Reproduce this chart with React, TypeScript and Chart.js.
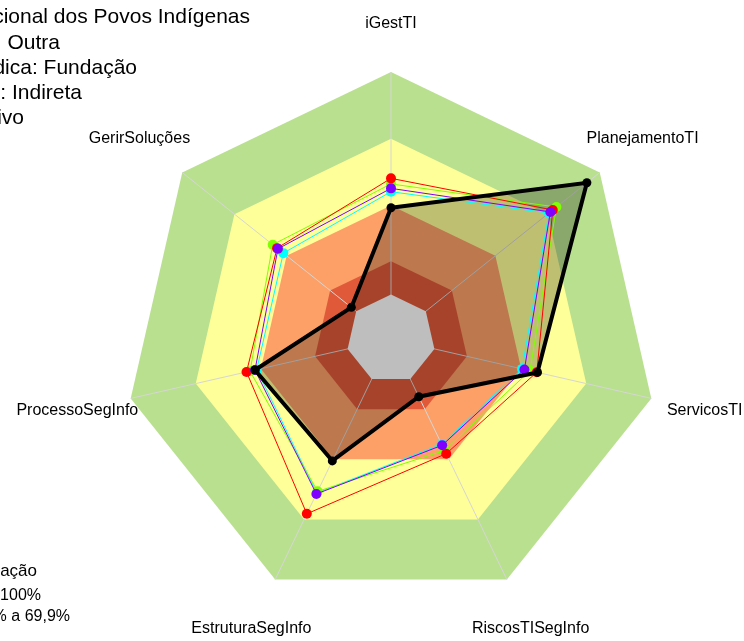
import React, { useEffect, useRef } from "react";
import { Chart, registerables } from "chart.js";

Chart.register(...registerables);

// ---- data ----
const AXES = [
  "iGestTI",
  "PlanejamentoTI",
  "ServicosTI",
  "RiscosTISegInfo",
  "EstruturaSegInfo",
  "ProcessoSegInfo",
  "GerirSoluções",
];
const ORGAO = [39, 92.6, 47.5, 8.8, 40.8, 42.7, 2.8];
const SERIE_VERMELHA = [52.2, 73, 47.2, 37.2, 67.2, 46.6, 45.5];
const SERIE_VERDE = [49.7, 75.1, 44.1, 35.6, 56, 45, 48];
const SERIE_ROXA = [47.7, 71.6, 41.5, 33, 57.3, 42.7, 45];
const SERIE_CIANO = [46.2, 70.8, 40.4, 32.5, 56.8, 41.9, 41.9];

const BAND_LIMITS = [100, 70, 40, 15];
const CENTER_LIMIT = 0;
const SCALE_MIN = -20;
const SCALE_MAX = 100;

const TITLE_LINES = [
  "Órgão: Fundação Nacional dos Povos Indígenas",
  "Categoria: Outra",
  "Natureza Jurídica: Fundação",
  "Administração: Indireta",
  "Poder: Executivo",
];
const LEGEND_LINES = ["Classificação", "70% a 100%", "40% a 69,9%"];

// ---- styles ----
const BAND_COLORS = ["#B9E08F", "#FFFF99", "#FCA068", "#E05A3A"];
const CENTER_COLOR = "#BEBEBE";
const FONT = "'Liberation Sans', Arial, sans-serif";

function polygon(ctx: CanvasRenderingContext2D, scale: any, n: number, dist: number) {
  ctx.beginPath();
  for (let i = 0; i < n; i++) {
    const p = scale.getPointPosition(i, dist);
    if (i === 0) ctx.moveTo(p.x, p.y);
    else ctx.lineTo(p.x, p.y);
  }
  ctx.closePath();
}

const bandsPlugin = {
  id: "bands",
  beforeDraw(chart: any) {
    const scale = chart.scales.r;
    const ctx = chart.ctx as CanvasRenderingContext2D;
    const n = AXES.length;
    ctx.save();
    BAND_LIMITS.forEach((v, k) => {
      polygon(ctx, scale, n, scale.getDistanceFromCenterForValue(v));
      ctx.fillStyle = BAND_COLORS[k];
      ctx.fill();
    });
    ctx.restore();
  },
  afterDatasetsDraw(chart: any) {
    const scale = chart.scales.r;
    const ctx = chart.ctx as CanvasRenderingContext2D;
    ctx.save();
    polygon(ctx, scale, AXES.length, scale.getDistanceFromCenterForValue(CENTER_LIMIT));
    ctx.fillStyle = CENTER_COLOR;
    ctx.fill();
    ctx.restore();
  },
  afterDraw(chart: any) {
    const scale = chart.scales.r;
    const ctx = chart.ctx as CanvasRenderingContext2D;
    const R = scale.drawingArea;
    ctx.save();
    ctx.fillStyle = "#000";
    ctx.textBaseline = "middle";
    ctx.textAlign = "center";
    ctx.font = `16px ${FONT}`;
    AXES.forEach((label, i) => {
      const p = scale.getPointPosition(i, R * (i === 0 ? 1.183 : 1.205));
      ctx.fillText(label, p.x, p.y);
    });
    // title block (clipped at left like the original)
    ctx.textAlign = "right";
    ctx.font = `21px ${FONT}`;
    const titleRight = [250, 60, 137, 82, 24];
    TITLE_LINES.forEach((t, i) => {
      ctx.fillText(t, titleRight[i], 17.5 + i * 25.3);
    });
    const legFont = [17, 16, 16];
    const legRight = [37, 41, 70];
    const legY = [571, 596, 617];
    LEGEND_LINES.forEach((t, i) => {
      ctx.font = `${legFont[i]}px ${FONT}`;
      ctx.fillText(t, legRight[i], legY[i]);
    });
    ctx.restore();
  },
};

export default function App() {
  const ref = useRef<HTMLCanvasElement>(null);
  useEffect(() => {
    if (!ref.current) return;
    const chart = new Chart(ref.current, {
      type: "radar",
      data: {
        labels: AXES,
        datasets: [
          {
            label: "Órgão",
            data: ORGAO,
            borderColor: "#000000",
            borderWidth: 4,
            backgroundColor: "rgba(0,0,0,0.25)",
            fill: "start",
            pointRadius: 4.5,
            pointBackgroundColor: "#000000",
            pointBorderWidth: 0,
            order: 0,
          },
          {
            label: "Roxa",
            data: SERIE_ROXA,
            borderColor: "#8000FF",
            borderWidth: 1,
            fill: false,
            pointRadius: 5,
            pointBackgroundColor: "#8000FF",
            pointBorderWidth: 0,
            order: 1,
          },
          {
            label: "Vermelha",
            data: SERIE_VERMELHA,
            borderColor: "#FF0000",
            borderWidth: 1,
            fill: false,
            pointRadius: 5,
            pointBackgroundColor: "#FF0000",
            pointBorderWidth: 0,
            order: 2,
          },
          {
            label: "Verde",
            data: SERIE_VERDE,
            borderColor: "#7FFF00",
            borderWidth: 1,
            fill: false,
            pointRadius: 5,
            pointBackgroundColor: "#7FFF00",
            pointBorderWidth: 0,
            order: 3,
          },
          {
            label: "Ciano",
            data: SERIE_CIANO,
            borderColor: "#00FFFF",
            borderWidth: 1,
            fill: false,
            pointRadius: 5,
            pointBackgroundColor: "#00FFFF",
            pointBorderWidth: 0,
            order: 4,
          },
        ],
      },
      options: {
        responsive: false,
        animation: false,
        devicePixelRatio: 1,
        layout: { padding: { left: 124, right: 86, top: 72, bottom: 35 } },
        elements: { line: { tension: 0 } },
        plugins: {
          legend: { display: false },
          tooltip: { enabled: false },
          filler: { drawTime: "beforeDatasetsDraw" },
        },
        scales: {
          r: {
            min: SCALE_MIN,
            max: SCALE_MAX,
            ticks: { display: false, stepSize: 20 },
            grid: { display: false },
            angleLines: { display: true, color: "#D6D6D6", lineWidth: 1 },
            pointLabels: { display: false },
          },
        },
      },
      plugins: [bandsPlugin],
    } as any);
    return () => chart.destroy();
  }, []);
  return (
    <div style={{ position: "absolute", left: 0, top: 0, width: 744, height: 641 }}>
      <canvas ref={ref} width={744} height={641} />
    </div>
  );
}
